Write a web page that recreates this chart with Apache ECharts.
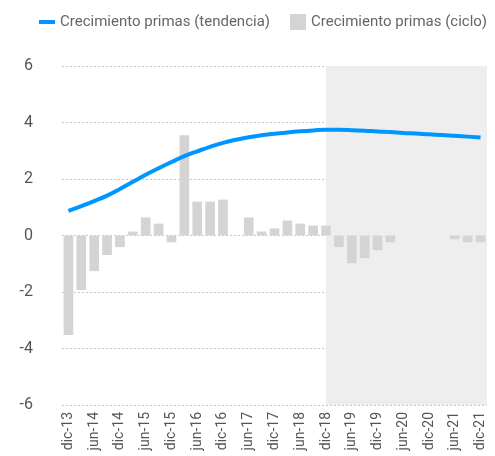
<!DOCTYPE html>
<html>
<head>
<meta charset="utf-8">
<script src="https://cdn.jsdelivr.net/npm/echarts@6/dist/echarts.min.js"></script>
<style>
  html, body { margin: 0; padding: 0; background: #fff; }
  #main { width: 495px; height: 456px; }
</style>
</head>
<body>
<div id="main"></div>
<script>
var quarters = [
  "dic-13", "mar-14", "jun-14", "sep-14", "dic-14", "mar-15", "jun-15", "sep-15",
  "dic-15", "mar-16", "jun-16", "sep-16", "dic-16", "mar-17", "jun-17", "sep-17",
  "dic-17", "mar-18", "jun-18", "sep-18", "dic-18", "mar-19", "jun-19", "sep-19",
  "dic-19", "mar-20", "jun-20", "sep-20", "dic-20", "mar-21", "jun-21", "sep-21",
  "dic-21"
];

// ciclo (bars)
var ciclo = [
  -3.52, -1.93, -1.26, -0.69, -0.41, 0.14, 0.64, 0.42,
  -0.24, 3.55, 1.2, 1.2, 1.27, 0, 0.64, 0.14,
  0.25, 0.53, 0.42, 0.35, 0.35, -0.41, -0.98, -0.8,
  -0.52, -0.24, 0, 0, 0, 0, -0.13, -0.24,
  -0.24
];

// tendencia (line)
var tendencia = [
  0.87, 1.04, 1.22, 1.41, 1.65, 1.9, 2.15, 2.38,
  2.6, 2.81, 2.98, 3.14, 3.28, 3.39, 3.48, 3.55,
  3.6, 3.65, 3.69, 3.72, 3.74, 3.74, 3.73, 3.71,
  3.68, 3.66, 3.63, 3.61, 3.58, 3.56, 3.53, 3.5,
  3.47
];

// shaded (projection) zone starts at the middle of this quarter
var forecastStart = "dic-18";

// flat line icon inside a 16x16 box
var lineIcon = "path://M0,0L0,0M16,16L16,16M0,6L16,6L16,10L0,10Z";

var chart = echarts.init(document.getElementById("main"));
var option = {
  animation: false,
  textStyle: { fontFamily: "Roboto" },
  legend: {
    left: 34,
    top: 9,
    itemGap: 20,
    itemWidth: 16,
    itemHeight: 16,
    textStyle: { fontSize: 15, color: "#666" },
    data: [
      { name: "Crecimiento primas (tendencia)", icon: lineIcon },
      { name: "Crecimiento primas (ciclo)", icon: "rect" }
    ]
  },
  grid: { left: 62, right: 8, top: 66, bottom: 51 },
  xAxis: [
    {
      type: "category",
      data: quarters,
      axisLine: { show: false },
      axisTick: { show: false },
      axisLabel: {
        interval: 1,
        rotate: 90,
        fontSize: 14,
        color: "#555",
        margin: 7
      }
    },
    {
      // hidden index axis, used only to place the shaded zone mid-band
      type: "value",
      min: -0.5,
      max: quarters.length - 0.5,
      show: false
    }
  ],
  yAxis: {
    type: "value",
    min: -6,
    max: 6,
    interval: 2,
    axisLine: { show: false },
    axisTick: { show: false },
    axisLabel: { fontSize: 16, color: "#555", margin: 29 },
    splitLine: { lineStyle: { color: "#c8c8c8", type: [2, 2], width: 1 } }
  },
  series: [
    {
      name: "zona",
      type: "line",
      xAxisIndex: 1,
      data: [],
      silent: true,
      markArea: {
        silent: true,
        itemStyle: { color: "#eeeeee" },
        data: [[{ xAxis: quarters.indexOf(forecastStart) }, {}]]
      },
      z: 1
    },
    {
      name: "Crecimiento primas (ciclo)",
      type: "bar",
      data: ciclo,
      barWidth: "75%",
      itemStyle: { color: "#d4d4d4" },
      z: 2
    },
    {
      name: "Crecimiento primas (tendencia)",
      type: "line",
      data: tendencia,
      smooth: true,
      symbol: "none",
      lineStyle: { color: "#0096ff", width: 4 },
      itemStyle: { color: "#0096ff" },
      z: 3
    }
  ]
};
chart.setOption(option);
</script>
</body>
</html>
